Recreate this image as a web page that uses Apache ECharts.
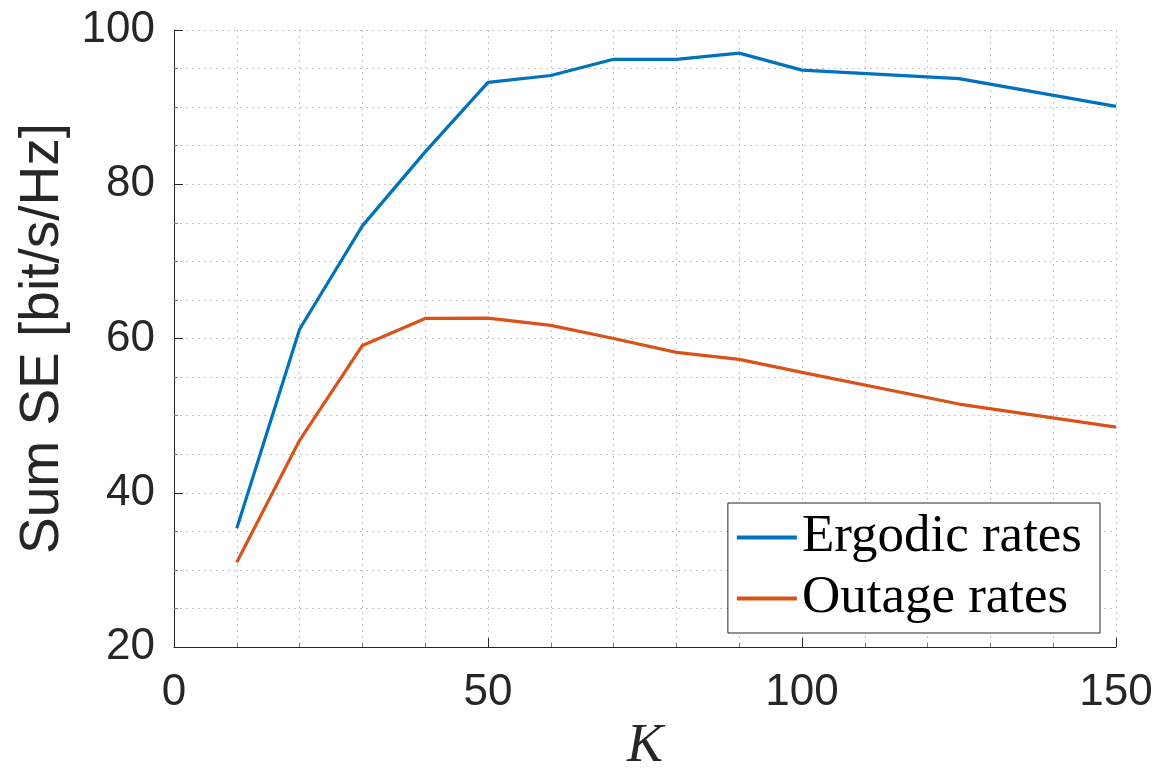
<!DOCTYPE html>
<html>
<head>
<meta charset="utf-8">
<script src="https://cdn.jsdelivr.net/npm/echarts@6/dist/echarts.min.js"></script>
<style>
  html, body { margin: 0; padding: 0; background: #fff; }
  #main-chart { width: 1157px; height: 769px; }
</style>
</head>
<body>
<div id="main-chart"></div>
<script>
// K values and the two curves
const kValues = [10, 20, 30, 40, 50, 60, 70, 80, 90, 100, 125, 150];
const ergodicRates = [35.4, 61.2, 74.6, 84.2, 93.2, 94.1, 96.2, 96.2, 97.0, 94.8, 93.7, 90.1];
const outageRates = [31.0, 46.8, 59.1, 62.6, 62.65, 61.7, 60.0, 58.2, 57.3, 55.6, 51.5, 48.5];
const seriesNames = ['Ergodic rates', 'Outage rates'];

document.addEventListener('DOMContentLoaded', () => {
    const chartContainer = document.getElementById('main-chart');
    const myChart = echarts.init(chartContainer, null, { renderer: 'canvas' });

    const gridLine = { show: true, lineStyle: { color: '#c4c4c4', type: [2, 4], width: 1 } };
    const axisColor = '#262626';
    const labelFont = { fontFamily: 'Liberation Sans', fontSize: 44, color: axisColor };

    const toPairs = values => kValues.map((k, i) => [k, values[i]]);

    const option = {
        animation: false,
        backgroundColor: '#fff',
        grid: { left: 174, right: 41, top: 30, bottom: 122, containLabel: false, outerBoundsMode: 'none' },
        legend: {
            orient: 'vertical',
            right: 57,
            top: 503,
            padding: [8, 18, 8, 9],
            itemGap: 8,
            itemWidth: 60,
            itemHeight: 4,
            borderColor: '#262626',
            borderWidth: 1,
            backgroundColor: '#fff',
            icon: 'rect',
            textStyle: { fontFamily: 'Liberation Serif', fontSize: 53, color: '#000' },
            data: seriesNames
        },
        xAxis: {
            type: 'value',
            min: 0,
            max: 150,
            interval: 50,
            name: 'K',
            nameLocation: 'middle',
            nameGap: 70,
            nameTextStyle: { fontFamily: 'Liberation Serif', fontStyle: 'italic', fontSize: 54, color: axisColor },
            axisLine: { show: true, onZero: false, lineStyle: { color: axisColor, width: 1 } },
            axisTick: { show: true, inside: true, length: 9, lineStyle: { color: axisColor } },
            minorTick: { show: true, splitNumber: 5, length: 4, lineStyle: { color: '#777' } },
            axisLabel: Object.assign({ margin: 24 }, labelFont),
            splitLine: gridLine,
            minorSplitLine: gridLine
        },
        yAxis: {
            type: 'value',
            min: 20,
            max: 100,
            interval: 20,
            name: 'Sum SE [bit/s/Hz]',
            nameLocation: 'middle',
            nameGap: 102,
            nameTextStyle: { fontFamily: 'Liberation Sans', fontSize: 55, color: axisColor },
            axisLine: { show: true, lineStyle: { color: axisColor, width: 1 } },
            axisTick: { show: true, inside: true, length: 9, lineStyle: { color: axisColor } },
            minorTick: { show: true, splitNumber: 4, length: 4, lineStyle: { color: '#777' } },
            axisLabel: Object.assign({ margin: 19 }, labelFont),
            splitLine: gridLine,
            minorSplitLine: gridLine
        },
        series: [
            {
                name: seriesNames[0],
                type: 'line',
                data: toPairs(ergodicRates),
                symbol: 'none',
                color: '#0072BD',
                lineStyle: { width: 3.2, color: '#0072BD' }
            },
            {
                name: seriesNames[1],
                type: 'line',
                data: toPairs(outageRates),
                symbol: 'none',
                color: '#D95319',
                lineStyle: { width: 3.2, color: '#D95319' }
            }
        ]
    };
    myChart.setOption(option);
});
</script>
</body>
</html>
